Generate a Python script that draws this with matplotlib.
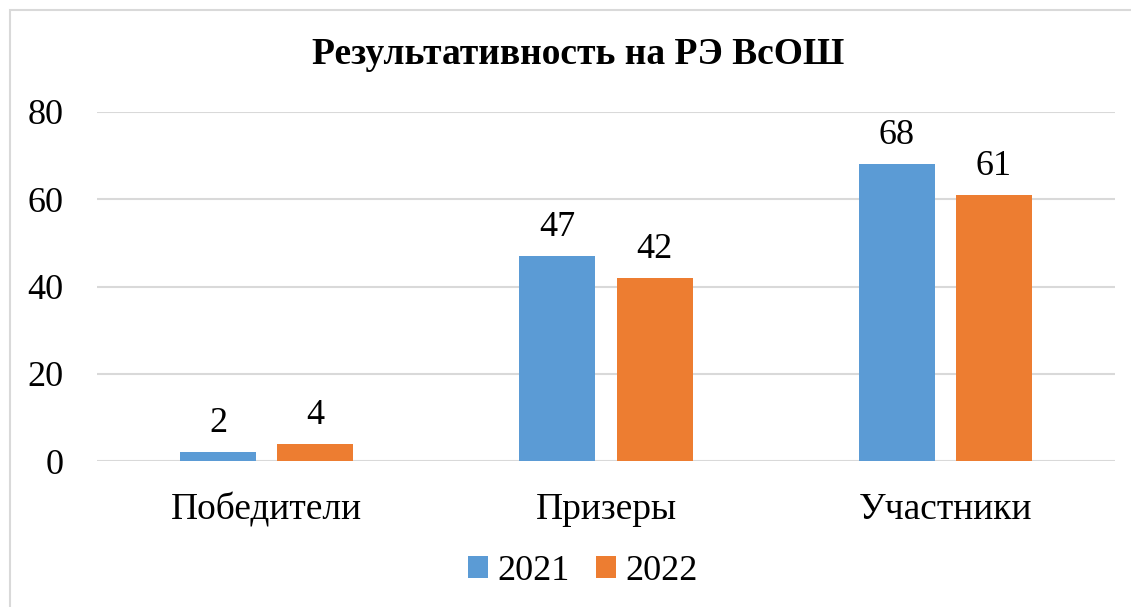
import matplotlib
matplotlib.use("Agg")
import matplotlib.pyplot as plt
import numpy as np
from matplotlib.patches import Rectangle

categories = ["Победители", "Призеры", "Участники"]
series_names = ["2021", "2022"]
values_2021 = [2, 47, 68]
values_2022 = [4, 42, 61]
colors = ["#5B9BD5", "#ED7D31"]
title = "Результативность на РЭ ВсОШ"

plt.rcParams['font.family'] = ['Liberation Serif', 'DejaVu Serif']

W, H = 1131, 607
fig = plt.figure(figsize=(W / 100, H / 100), dpi=100)

# chart border (extends beyond the right and bottom edges)
fig.patches.append(Rectangle((10 / W, -0.1), 1.2, 1 - 10 / H + 0.1, transform=fig.transFigure,
                             fill=False, edgecolor="#D9D9D9", linewidth=1.5))

ax = fig.add_axes([97 / W, (H - 461) / H, 1018 / W, 349 / H])
x = np.arange(len(categories))
bw = 0.224
off = 0.143
series = [values_2021, values_2022]
for i, (vals, name, c) in enumerate(zip(series, series_names, colors)):
    pos = x + (-off if i == 0 else off)
    bars = ax.bar(pos, vals, width=bw, color=c, label=name, zorder=3)
    for b, v in zip(bars, vals):
        ax.annotate(str(v), (b.get_x() + b.get_width() / 2, v), xytext=(0, 14.4),
                    textcoords="offset points", ha="center", va="baseline", fontsize=26)

ax.set_xlim(-0.5, 2.5)
ax.set_ylim(0, 80)
ax.set_yticks([0, 20, 40, 60, 80])
ax.yaxis.grid(True, color="#D9D9D9", linewidth=1.5, zorder=0)
ax.set_axisbelow(True)
for s in ax.spines.values():
    s.set_visible(False)
ax.set_xticks(x)
ax.set_xticklabels(categories)
ax.tick_params(axis="y", length=0, pad=24, labelsize=26)
ax.tick_params(axis="x", length=0, pad=23, labelsize=27)

fig.text(578 / W, 1 - 54 / H, title, ha="center", va="center", fontsize=27, fontweight="bold")

leg = fig.legend(loc="center", bbox_to_anchor=(583 / W, 1 - 571 / H), ncol=2, frameon=False,
                 fontsize=26, handlelength=0.55, handleheight=0.55, handletextpad=0.25,
                 columnspacing=0.75, borderaxespad=0)

fig.savefig("out.png", dpi=100)
